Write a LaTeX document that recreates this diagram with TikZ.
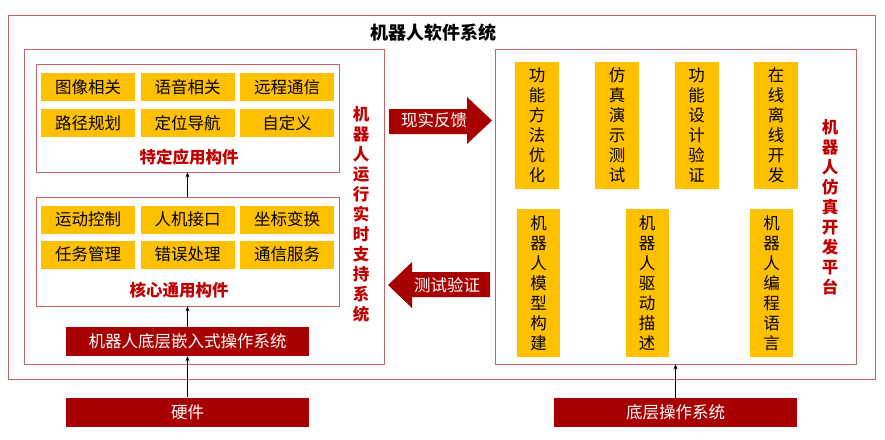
\documentclass[tikz,border=0pt]{standalone}
\usepackage{fontspec}
\setmainfont{Noto Sans CJK SC}
\usepackage{tikz}
\usetikzlibrary{positioning,arrows.meta}
\definecolor{robotRed}{HTML}{A80000}
\definecolor{labelRed}{HTML}{C00000}
\definecolor{cellGold}{HTML}{FFC000}
\definecolor{frameRose}{HTML}{C0646A}

\begin{document}
\begin{tikzpicture}[x=1pt,y=-1pt,
  frame/.style={draw=frameRose,line width=.8pt,fill=white},
  cell/.style={fill=cellGold,minimum width=94pt,minimum height=28pt,inner sep=0pt,font=\fontsize{16.5}{18}\selectfont},
  vcell/.style={fill=cellGold,minimum width=44pt,inner sep=0pt,align=center,font=\fontsize{16.5}{20}\selectfont},
  osbox/.style={fill=robotRed,text=white,minimum width=243pt,minimum height=29pt,inner sep=0pt,font=\fontsize{16.5}{18}\selectfont},
  tag/.style={text=labelRed,font=\bfseries\fontsize{16.5}{18}\selectfont,inner sep=0pt},
  vtag/.style={text=labelRed,align=center,inner sep=0pt,font=\bfseries\fontsize{16.5}{20}\selectfont},
  up/.style={-{Stealth[length=5pt,width=4pt]},line width=.6pt}
]
  \useasboundingbox (0,0) rectangle (885,439);
  % frames
  \node[frame,minimum width=867pt,minimum height=364pt,inner sep=0pt] (outer) at (441.5,197) {};
  \node[font=\bfseries\fontsize{18}{20}\selectfont,inner sep=0pt] (title) at (433,33) {机器人软件系统};
  \node[frame,minimum width=360pt,minimum height=315pt,inner sep=0pt] (runtime) at (204,206.5) {};
  \node[frame,minimum width=361pt,minimum height=315pt,inner sep=0pt] (sim) at (675.5,206.5) {};
  \node[frame,minimum width=303pt,minimum height=108pt,inner sep=0pt] (app) at (187.5,118) {};
  \node[frame,minimum width=303pt,minimum height=109pt,inner sep=0pt] (core) at (187.5,251.5) {};
  % specific application parts
  \node[cell] (img) at (88,87) {图像相关};
  \node[cell] (voice) at (187.5,87) {语音相关};
  \node[cell] (remote) at (287,87) {远程通信};
  \node[cell] (path) at (88,123) {路径规划};
  \node[cell] (nav) at (187.5,123) {定位导航};
  \node[cell] (custom) at (287,123) {自定义};
  \node[tag] (applabel) at (189,157) {特定应用构件};
  % core parts
  \node[cell] (motion) at (88,219.5) {运动控制};
  \node[cell] (hmi) at (187.5,219.5) {人机接口};
  \node[cell] (coord) at (287,219.5) {坐标变换};
  \node[cell] (task) at (88,254.5) {任务管理};
  \node[cell] (error) at (187.5,254.5) {错误处理};
  \node[cell] (comm) at (287,254.5) {通信服务};
  \node[tag] (corelabel) at (179,290) {核心通用构件};
  % operating systems and hardware
  \node[osbox] (embos) at (187.5,341.5) {机器人底层嵌入式操作系统};
  \node[osbox] (hw) at (187.5,412) {硬件};
  \node[osbox] (baseos) at (675.5,412.5) {底层操作系统};
  \node[vtag] (rtlabel) at (361,214) {机\\器\\人\\运\\行\\实\\时\\支\\持\\系\\统};
  % simulation platform
  \node[vcell,minimum height=127pt] (optim) at (537,125.5) {功\\能\\方\\法\\优\\化};
  \node[vcell,minimum height=127pt] (demo) at (617,125.5) {仿\\真\\演\\示\\测\\试};
  \node[vcell,minimum height=127pt] (verify) at (696.5,125.5) {功\\能\\设\\计\\验\\证};
  \node[vcell,minimum height=127pt] (online) at (776,125.5) {在\\线\\离\\线\\开\\发};
  \node[vcell,minimum width=43pt,minimum height=148pt] (model) at (538.5,283) {机\\器\\人\\模\\型\\构\\建};
  \node[vcell,minimum width=43pt,minimum height=148pt] (driver) at (647,283) {机\\器\\人\\驱\\动\\描\\述};
  \node[vcell,minimum width=43pt,minimum height=148pt] (lang) at (771.5,283) {机\\器\\人\\编\\程\\语\\言};
  \node[vtag] (simlabel) at (830,207) {机\\器\\人\\仿\\真\\开\\发\\平\\台};
  % block arrows between the two systems
  \fill[robotRed] (389,109) -- (467,109) -- (467,97) -- (492,120.5) -- (467,144) -- (467,134) -- (389,134) -- cycle;
  \node[text=white,inner sep=0pt,font=\fontsize{16.5}{18}\selectfont] (feedback) at (434,120.5) {现实反馈};
  \fill[robotRed] (490,272) -- (412,272) -- (412,262) -- (388,285) -- (412,308) -- (412,297) -- (490,297) -- cycle;
  \node[text=white,inner sep=0pt,font=\fontsize{16.5}{18}\selectfont] (testing) at (447,285) {测试验证};
  % support arrows
  \draw[up] (hw.north) -- (embos.south);
  \draw[up] (embos.north) -- (core.south);
  \draw[up] (core.north) -- (app.south);
  \draw[up] (baseos.north) -- (baseos.north |- sim.south);
\end{tikzpicture}
\end{document}
